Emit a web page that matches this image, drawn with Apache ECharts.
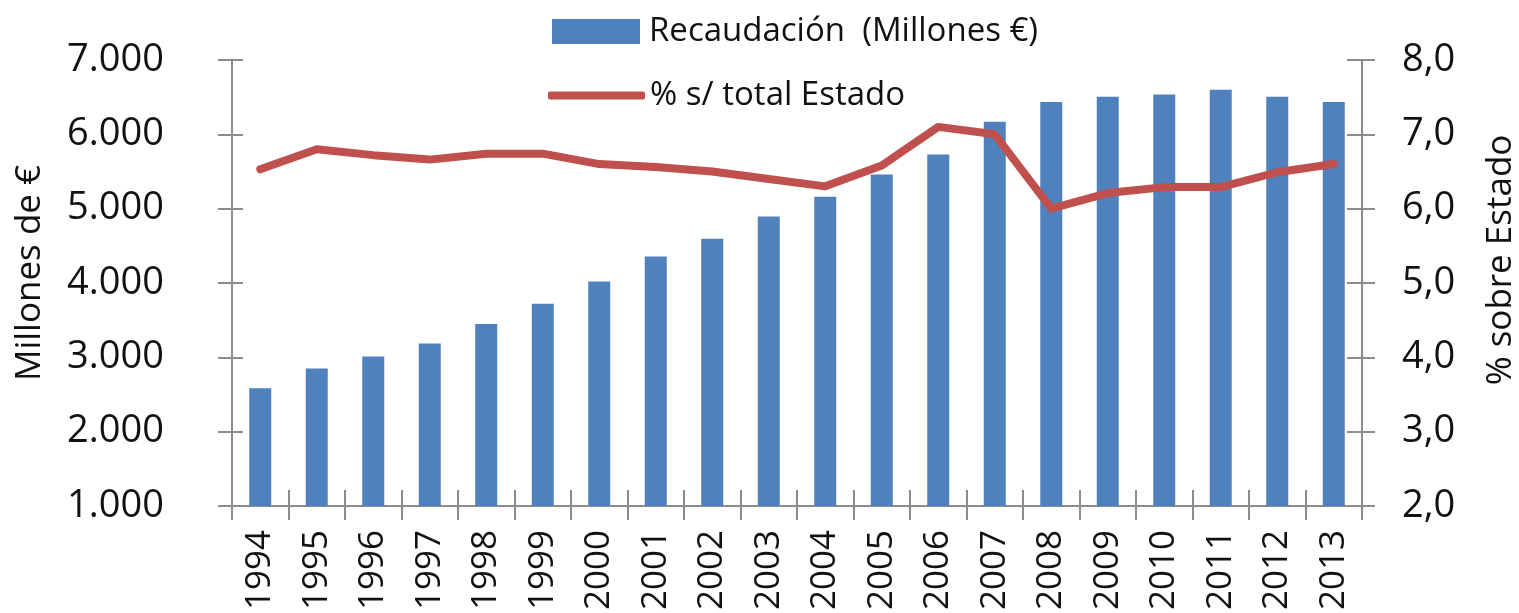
<!DOCTYPE html>
<html>
<head>
<meta charset="utf-8">
<script src="https://cdn.jsdelivr.net/npm/echarts@6/dist/echarts.min.js"></script>
<style>
  html, body { margin: 0; padding: 0; background: #fff; }
  #chart { width: 1519px; height: 613px; }
</style>
</head>
<body>
<div id="chart"></div>
<script>
var years = ['1994', '1995', '1996', '1997', '1998', '1999', '2000', '2001', '2002', '2003',
             '2004', '2005', '2006', '2007', '2008', '2009', '2010', '2011', '2012', '2013'];
var recaudacion = [2585, 2850, 3010, 3185, 3450, 3720, 4020, 4355, 4595, 4895,
                   5160, 5460, 5730, 6170, 6435, 6505, 6535, 6600, 6505, 6435];
var porcentaje = [6.53, 6.80, 6.72, 6.66, 6.74, 6.74, 6.60, 6.56, 6.50, 6.40,
                  6.30, 6.58, 7.10, 7.00, 6.00, 6.21, 6.29, 6.29, 6.49, 6.60];
var nombreBarras = 'Recaudación  (Millones €)';
var nombreLinea = '% s/ total Estado';

var gris = '#8c8c8c';
var fuente = '"Open Sans", sans-serif';

function miles(v) {
    return String(v).replace(/\B(?=(\d{3})+(?!\d))/g, '.');
}
function decimal(v) {
    return v.toFixed(1).replace('.', ',');
}

// eje "fantasma" para que las marcas crucen la linea del eje, como en Excel
function ejeY(pos, min, max, interval, extra) {
    return Object.assign({
        type: 'value',
        position: pos,
        min: min,
        max: max,
        interval: interval,
        splitLine: { show: false },
        axisLine: { show: true, lineStyle: { color: gris, width: 2 } }
    }, extra);
}

var myChart = echarts.init(document.getElementById('chart'));
myChart.setOption({
    animation: false,
    textStyle: { fontFamily: fuente, color: '#111' },
    grid: { left: 232, right: 157, top: 60, bottom: 107, outerBoundsMode: 'none' },
    legend: [
        {
            data: [nombreBarras],
            left: 552, top: 15, padding: 0,
            icon: 'rect', itemWidth: 88, itemHeight: 25,
            textStyle: { fontSize: 33, fontFamily: fuente, color: '#111', padding: [0, 0, 0, 4] }
        },
        {
            data: [nombreLinea],
            left: 548, top: 79, padding: 0,
            icon: 'roundRect', itemWidth: 97, itemHeight: 8,
            textStyle: { fontSize: 33, fontFamily: fuente, color: '#111' }
        }
    ],
    xAxis: [
        {
            type: 'category',
            data: years,
            axisLine: { lineStyle: { color: gris, width: 2 } },
            axisTick: { show: true, length: 14, lineStyle: { color: gris, width: 2 } },
            axisLabel: { rotate: 90, margin: 24, fontSize: 35, color: '#111', fontFamily: fuente }
        },
        {
            type: 'category',
            data: years,
            position: 'bottom',
            axisLine: { show: false },
            axisTick: { show: true, inside: true, length: 16, lineStyle: { color: gris, width: 2 } },
            axisLabel: { show: false }
        }
    ],
    yAxis: [
        ejeY('left', 1000, 7000, 1000, {
            name: 'Millones de €',
            nameLocation: 'middle',
            nameGap: 184,
            nameTextStyle: { fontSize: 35, fontFamily: fuente, color: '#111', padding: [0, 0, 0, 20] },
            axisTick: { show: true, length: 14, lineStyle: { color: gris, width: 2 } },
            axisLabel: { margin: 68, fontSize: 38, color: '#111', fontFamily: fuente, formatter: miles }
        }),
        ejeY('right', 2, 8, 1, {
            name: '% sobre Estado',
            nameLocation: 'middle',
            nameGap: 122,
            nameTextStyle: { fontSize: 35, fontFamily: fuente, color: '#111', padding: [0, 0, 0, 46] },
            axisTick: { show: true, length: 13, lineStyle: { color: gris, width: 2 } },
            axisLabel: { margin: 40, fontSize: 38, color: '#111', fontFamily: fuente, formatter: decimal }
        }),
        ejeY('left', 1000, 7000, 1000, {
            axisLine: { show: false },
            axisTick: { show: true, inside: true, length: 11, lineStyle: { color: gris, width: 2 } },
            axisLabel: { show: false }
        }),
        ejeY('right', 2, 8, 1, {
            axisLine: { show: false },
            axisTick: { show: true, inside: true, length: 15, lineStyle: { color: gris, width: 2 } },
            axisLabel: { show: false }
        })
    ],
    series: [
        {
            name: nombreBarras,
            type: 'bar',
            xAxisIndex: 0,
            yAxisIndex: 0,
            barWidth: 22,
            itemStyle: { color: '#4f81bd' },
            data: recaudacion
        },
        {
            name: nombreLinea,
            type: 'line',
            xAxisIndex: 0,
            yAxisIndex: 1,
            symbol: 'none',
            lineStyle: { color: '#c0504d', width: 8, cap: 'round', join: 'round' },
            itemStyle: { color: '#c0504d' },
            data: porcentaje
        }
    ]
});
</script>
</body>
</html>
